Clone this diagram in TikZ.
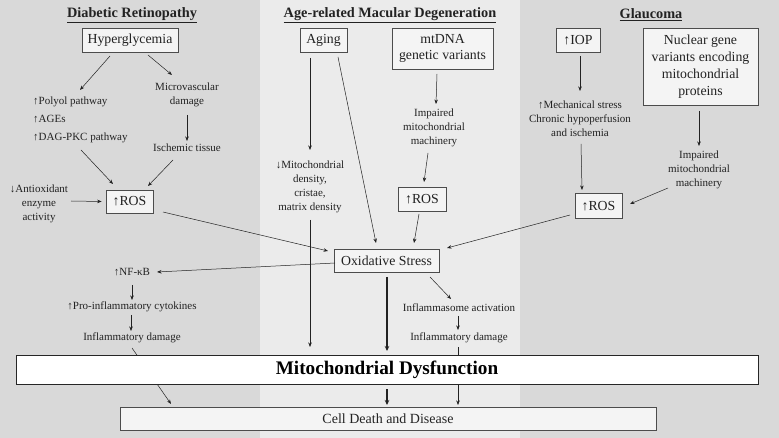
\documentclass[tikz,border=0pt]{standalone}
\usepackage{fontspec}
\setmainfont{Liberation Serif}
\usetikzlibrary{arrows.meta}
\definecolor{panelD}{HTML}{D9D9D9}
\definecolor{panelL}{HTML}{EBEBEB}
\definecolor{boxfill}{HTML}{F4F4F4}
\definecolor{ink}{HTML}{222222}
\begin{document}
\begin{tikzpicture}[x=1pt,y=-1pt,
  title/.style={font=\fontsize{14.3}{16}\selectfont\bfseries, text=ink},
  box/.style={draw=black!70, fill=boxfill, line width=0.7pt, align=center, inner sep=1pt,
    font=\fontsize{13.8}{16}\selectfont, text=ink},
  lbl/.style={align=center, inner sep=0pt, font=\fontsize{11}{14}\selectfont, text=ink},
  arr/.style={draw=ink, line width=0.5pt, -{Stealth[length=4.5pt,width=3.5pt]}},
  bigarr/.style={draw=ink, line width=1.3pt, -{Stealth[length=5pt,width=4.5pt]}}]
\useasboundingbox (0,0) rectangle (779,438);
% panels
\fill[panelD] (0,0) rectangle (260,438);
\fill[panelL] (260,0) rectangle (520,438);
\fill[panelD] (520,0) rectangle (779,438);
% titles
\node[title] (tDR) at (132,15) {\underline{Diabetic Retinopathy}};
\node[title] (tAMD) at (390,15) {\underline{Age-related Macular Degeneration}};
\node[title] (tGL) at (651,15) {\underline{Glaucoma}};
% boxes
\node[box, minimum width=96, minimum height=24] (hyper) at (130,40) {Hyperglycemia};
\node[box, minimum width=47, minimum height=24] (aging) at (323.5,40) {Aging};
\node[box, minimum width=101, minimum height=41] (mtdna) at (442.5,48.5) {mtDNA\\genetic variants};
\node[box, minimum width=44, minimum height=24] (iop) at (578,40) {↑IOP};
\node[box, minimum width=115, minimum height=77, font=\fontsize{13.8}{17}\selectfont] (nuclear) at (700.5,66.5) {Nuclear gene\\variants encoding\\mitochondrial\\proteins};
\node[box, minimum width=47, minimum height=23] (rosL) at (129.5,201.5) {↑ROS};
\node[box, minimum width=48, minimum height=24] (rosM) at (422,199) {↑ROS};
\node[box, minimum width=47, minimum height=25] (rosR) at (598.5,206) {↑ROS};
\node[box, minimum width=105, minimum height=23] (oxid) at (386.5,260.5) {Oxidative Stress};
\node[box, minimum width=536, minimum height=23, font=\fontsize{14}{16}\selectfont] (cell) at (388,418.5) {Cell Death and Disease};
% labels
\node[lbl, align=left, anchor=west, font=\fontsize{11}{18}\selectfont] (polyol) at (33,120) {↑Polyol pathway\\↑AGEs\\↑DAG-PKC pathway};
\node[lbl] (micro) at (187,95) {Microvascular\\damage};
\node[lbl] (isch) at (187,148) {Ischemic tissue};
\node[lbl] (antiox) at (39,204) {↓Antioxidant\\enzyme\\activity};
\node[lbl] (mitoD) at (310,187) {↓Mitochondrial\\density,\\cristae,\\matrix density};
\node[lbl] (impM) at (434,128) {Impaired\\mitochondrial\\machinery};
\node[lbl] (mech) at (580,119) {↑Mechanical stress\\Chronic hypoperfusion\\and ischemia};
\node[lbl] (impG) at (699,170) {Impaired\\mitochondrial\\machinery};
\node[lbl] (nfkb) at (132,272) {↑NF-κB};
\node[lbl] (proinf) at (132,307) {↑Pro-inflammatory cytokines};
\node[lbl] (inflL) at (132,338) {Inflammatory damage};
\node[lbl] (inflam) at (459,308) {Inflammasome activation};
\node[lbl] (inflR) at (459,338) {Inflammatory damage};
% connectors passing behind the dysfunction bar
\draw[arr] ([shift={(0,10)}]inflL.center) -- ([shift={(-217,-14.5)}]cell.center);
\draw[arr] ([shift={(-1,9)}]inflR.center) -- ([shift={(70,-13.5)}]cell.center);
\node[draw=black!85, fill=white, line width=1pt, minimum width=742, minimum height=29, inner sep=0pt,
  font=\fontsize{19.2}{21}\selectfont\bfseries, text=black] (mito) at (387,369.5) {Mitochondrial Dysfunction};
% connectors
\draw[arr] ([shift={(-20,16)}]hyper.center) -- ([shift={(47,-30)}]polyol.west);
\draw[arr] ([shift={(18,15)}]hyper.center) -- ([shift={(-15,-20)}]micro.center);
\draw[arr] ([shift={(0,20)}]micro.center) -- ([shift={(0,-7)}]isch.center);
\draw[arr] ([shift={(48,30)}]polyol.west) -- ([shift={(-16.5,-17.5)}]rosL.center);
\draw[arr] ([shift={(-14,12)}]isch.center) -- ([shift={(18.5,-15.5)}]rosL.center);
\draw[arr] ([shift={(32,-3)}]antiox.center) -- ([shift={(-4,0)}]rosL.west);
\draw[arr] ([shift={(33.5,10.5)}]rosL.center) -- ([shift={(-58.5,-9.5)}]oxid.center);
\draw[arr] ([shift={(-13.5,18)}]aging.center) -- ([shift={(0,-37)}]mitoD.center);
\draw[arr] ([shift={(0,33)}]mitoD.center) -- ([shift={(-77,-22.5)}]mito.center);
\draw[arr] ([shift={(14.5,17)}]aging.center) -- ([shift={(-10.5,-17.5)}]oxid.center);
\draw[arr] ([shift={(-5.5,25.5)}]mtdna.center) -- ([shift={(2,-24)}]impM.center);
\draw[arr] ([shift={(-6,25)}]impM.center) -- ([shift={(2,-17)}]rosM.center);
\draw[arr] ([shift={(-3,15)}]rosM.center) -- ([shift={(27.5,-17.5)}]oxid.center);
\draw[arr] ([shift={(2,16)}]iop.center) -- ([shift={(0,-28)}]mech.center);
\draw[arr] ([shift={(1,25)}]mech.center) -- ([shift={(-16.5,-16)}]rosR.center);
\draw[arr] ([shift={(-1.5,44.5)}]nuclear.center) -- ([shift={(0,-24)}]impG.center);
\draw[arr] ([shift={(-31,18)}]impG.center) -- ([shift={(31.5,-2)}]rosR.center);
\draw[arr] ([shift={(-28.5,9)}]rosR.center) -- ([shift={(60.5,-12.5)}]oxid.center);
\draw[arr] ([shift={(-51.5,2.5)}]oxid.center) -- ([shift={(25,0)}]nfkb.center);
\draw[arr] ([shift={(0,13)}]nfkb.center) -- ([shift={(0,-7)}]proinf.center);
\draw[arr] ([shift={(-1,8)}]proinf.center) -- ([shift={(-1,-7)}]inflL.center);
\draw[arr] ([shift={(43.5,16.5)}]oxid.center) -- ([shift={(-8,-9)}]inflam.center);
\draw[arr] ([shift={(-1,8)}]inflam.center) -- ([shift={(-1,-8)}]inflR.center);
\draw[bigarr] ([shift={(0.5,16.5)}]oxid.center) -- ([shift={(0,-18.5)}]mito.center);
\draw[bigarr] ([shift={(0,19.5)}]mito.center) -- ([shift={(-1,-13.5)}]cell.center);
\end{tikzpicture}
\end{document}
